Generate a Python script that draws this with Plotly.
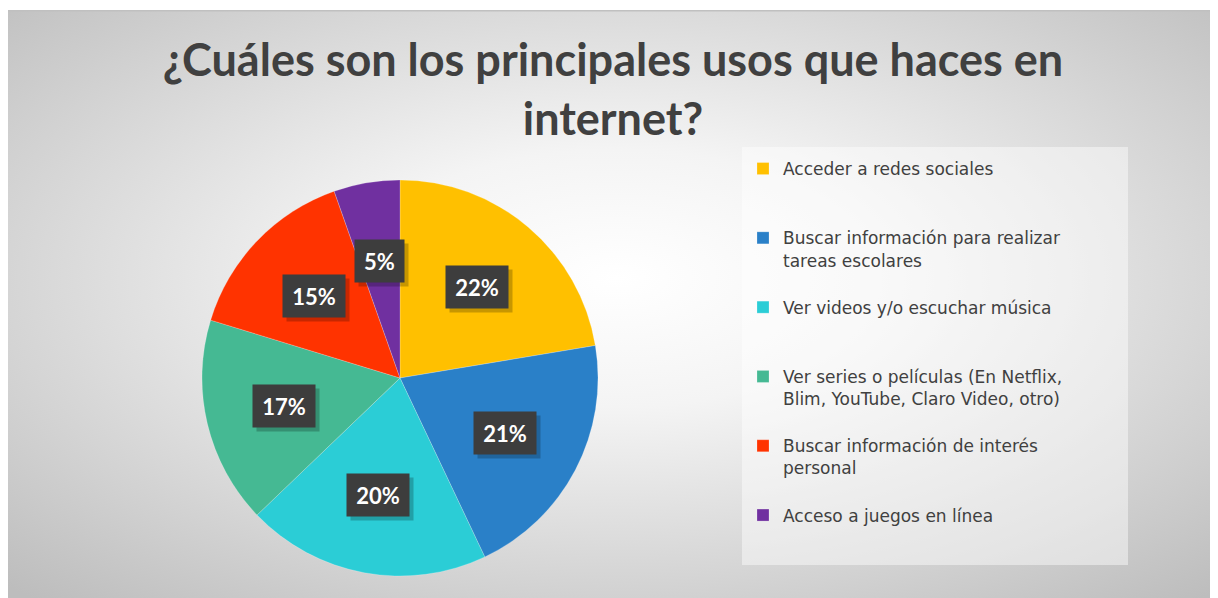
import base64
import numpy as np
import plotly.graph_objects as go

# ---------------- data ----------------
categories = [
    "Acceder a redes sociales",
    "Buscar información para realizar<br>tareas escolares",
    "Ver videos y/o escuchar música",
    "Ver series o películas (En Netflix,<br>Blim, YouTube, Claro Video, otro)",
    "Buscar información de interés<br>personal",
    "Acceso a juegos en línea",
]
values = [22.4, 20.6, 19.9, 16.9, 14.9, 5.4]
colors = ["#FFC000", "#2A80C8", "#2BCDD6", "#45B993", "#FF3300", "#7030A0"]
title_text = "¿Cuáles son los principales usos que haces en<br>internet?"

W, H = 1218, 598
OFF = 8  # page body margin: the figure is drawn 8 px right/down on screen


def px(x):
    return (x - OFF) / W


def py(y):
    return 1 - (y - OFF) / H


# legend labels padded to three lines so that entries are evenly spaced
legend_labels = []
for c in categories:
    n = c.count("<br>") + 1
    legend_labels.append(c + "<br> " * (3 - n))

# pie domain (paper)
dom_x = [px(202), px(598)]
dom_y = [py(576), py(180)]

fig = go.Figure(
    go.Pie(
        labels=legend_labels,
        values=values,
        sort=False,
        direction="clockwise",
        rotation=0,
        marker=dict(colors=colors, line=dict(color="rgba(255,255,255,0.35)", width=0.6)),
        textinfo="none",
        hoverinfo="label+percent",
        domain=dict(x=dom_x, y=dom_y),
        showlegend=True,
    )
)

# ---- percentage labels in dark boxes, positioned from the data ----
vals = np.array(values, dtype=float)
frac = vals / vals.sum()
mid = (np.cumsum(frac) - frac / 2) * 2 * np.pi
cx_px = (dom_x[0] + dom_x[1]) / 2 * W
cy_px = (dom_y[0] + dom_y[1]) / 2 * H
r_px = min((dom_x[1] - dom_x[0]) * W, (dom_y[1] - dom_y[0]) * H) / 2
annotations = []
for f, a in zip(frac, mid):
    x = (cx_px + 0.6 * r_px * np.sin(a)) / W
    y = (cy_px + 0.6 * r_px * np.cos(a)) / H
    pct = f"{round(f * 100):d}"
    box_w = 13 * len(pct) + 20
    common = dict(x=x, y=y, xref="paper", yref="paper", showarrow=False,
                  xanchor="center", yanchor="middle", borderpad=8,
                  width=box_w, height=26)
    # soft shadow (empty box)
    annotations.append(dict(
        **common, text=" ",
        font=dict(family="Lato", size=22, color="rgba(0,0,0,0)"),
        bgcolor="rgba(0,0,0,0.22)", xshift=4, yshift=-4,
    ))
    annotations.append(dict(
        **common, text=f"<b>{pct}%</b>",
        font=dict(family="Lato", size=22, color="white"),
        bgcolor="#3d3d3d",
    ))

# ---- background radial gradient ----
bw, bh = W, H - 2
svg = (
    f'<svg xmlns="http://www.w3.org/2000/svg" width="{bw}" height="{bh}" '
    f'viewBox="0 0 {bw} {bh}" preserveAspectRatio="none">'
    '<defs><radialGradient id="g" cx="50%" cy="45%" r="72%">'
    '<stop offset="0" stop-color="#ffffff"/>'
    '<stop offset="0.3" stop-color="#f4f4f4"/>'
    '<stop offset="1" stop-color="#bdbdbd"/>'
    '</radialGradient></defs>'
    f'<rect width="{bw}" height="{bh}" fill="url(#g)"/>'
    f'<rect width="{bw}" height="1.5" fill="#c0c0c0"/>'
    '</svg>'
)
src = "data:image/svg+xml;base64," + base64.b64encode(svg.encode()).decode()

fig.update_layout(
    width=W, height=H, autosize=False,
    margin=dict(l=0, r=0, t=0, b=0),
    paper_bgcolor="white",
    title=dict(
        text=f"<b>{title_text}</b>",
        x=px(613), xanchor="center",
        y=py(76), yanchor="top", yref="container",
        font=dict(family="Lato", size=45, color="#404040"),
    ),
    legend=dict(
        x=px(743), xanchor="left",
        y=py(151), yanchor="top",
        font=dict(family="DejaVu Sans", size=17, color="#404040"),
        bgcolor="rgba(0,0,0,0)",
        valign="top",
        traceorder="normal",
    ),
    images=[dict(
        source=src, xref="paper", yref="paper",
        x=0, y=1 - 2 / H, sizex=1, sizey=1 - 2 / H,
        xanchor="left", yanchor="top", sizing="stretch", layer="below",
    )],
    shapes=[dict(
        type="rect", xref="paper", yref="paper",
        x0=px(742), x1=px(1128), y0=py(565), y1=py(147),
        fillcolor="rgba(255,255,255,0.45)", line=dict(width=0), layer="below",
    )],
    annotations=annotations,
)

fig.write_html("out.html")
